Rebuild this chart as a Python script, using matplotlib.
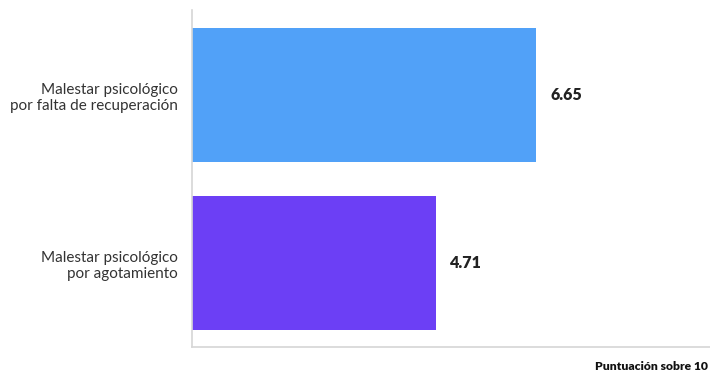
import matplotlib.pyplot as plt

categorias = ['Malestar psicológico\npor agotamiento',
              'Malestar psicológico\npor falta de recuperación']
valores = [4.71, 6.65]
colores = ['#6c3ff5', '#51a1f8']

plt.rcParams['font.family'] = ['Lato', 'DejaVu Sans']

fig = plt.figure(figsize=(7.1, 3.74), dpi=100)
ax = fig.add_axes([0.27, 0.072, 0.73, 0.901])

pos = range(len(valores))
ax.barh(pos, valores, height=0.8, color=colores)
for p, v in zip(pos, valores):
    ax.text(v + 0.27, p, f'{v:.2f}', va='center', ha='left',
            fontsize=11.5, fontweight='heavy', color='#222222')

ax.set_xlim(0, 10)
ax.set_ylim(-0.5, 1.506)
ax.set_yticks(list(pos))
ax.set_yticklabels(categorias, fontsize=11, color='#333333', ha='right')
ax.tick_params(axis='y', length=0, pad=10)
ax.set_xticks([])
for s in ['top', 'right']:
    ax.spines[s].set_visible(False)
for s in ['left', 'bottom']:
    ax.spines[s].set_color('#d6d6d6')
    ax.spines[s].set_linewidth(1.2)

fig.text(0.997, 0.02, 'Puntuación sobre 10', fontsize=8.7,
         fontweight='heavy', color='#111111', ha='right', va='center')

fig.savefig('out.png', dpi=100)
